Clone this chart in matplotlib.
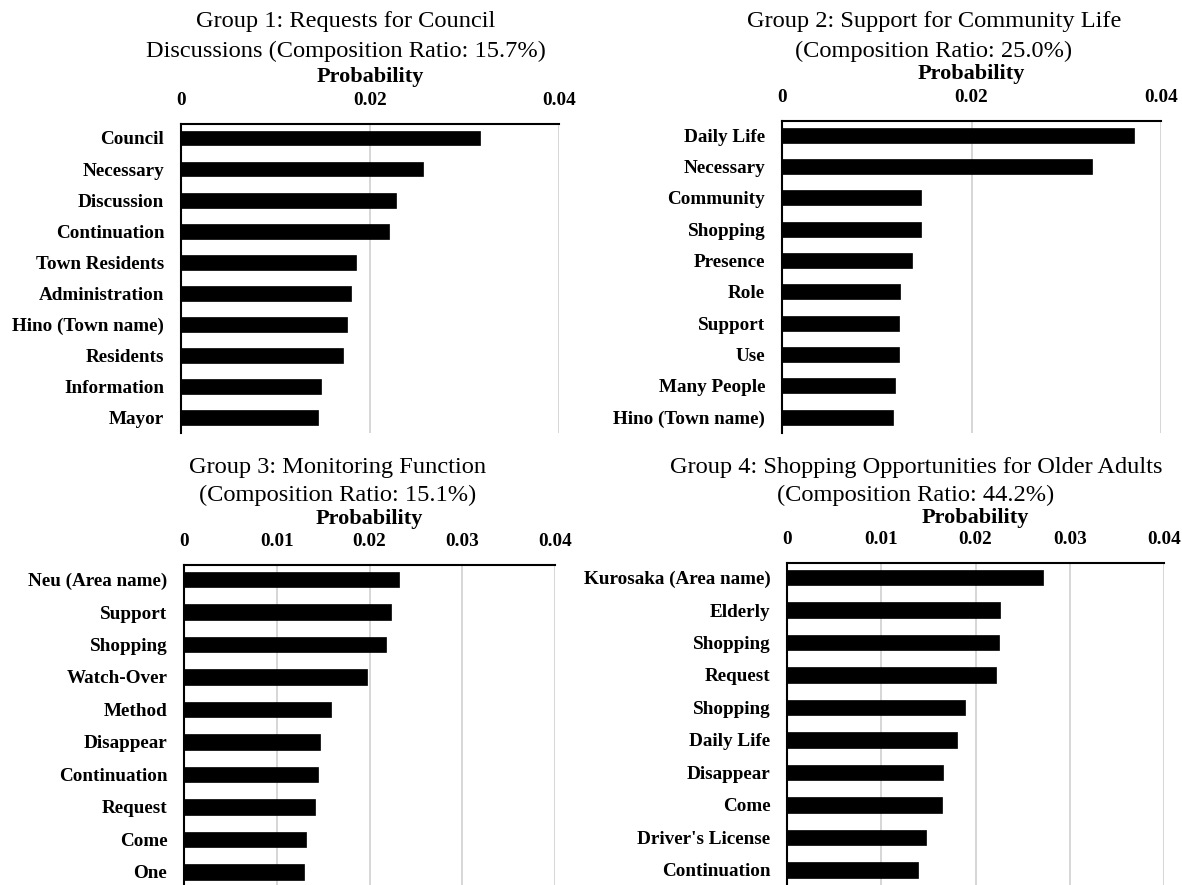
import matplotlib
matplotlib.use("Agg")
import matplotlib.pyplot as plt

plt.rcParams['font.family'] = ['Liberation Serif', 'DejaVu Serif']

# ---- data ----
g1_terms = ["Council", "Necessary", "Discussion", "Continuation", "Town Residents",
            "Administration", "Hino (Town name)", "Residents", "Information", "Mayor"]
g1_probs = [0.0316, 0.0256, 0.0227, 0.0220, 0.0185, 0.0180, 0.0176, 0.0171, 0.0148, 0.0145]

g2_terms = ["Daily Life", "Necessary", "Community", "Shopping", "Presence",
            "Role", "Support", "Use", "Many People", "Hino (Town name)"]
g2_probs = [0.0372, 0.0327, 0.0147, 0.0147, 0.0137, 0.0125, 0.0123, 0.0123, 0.0119, 0.0117]

g3_terms = ["Neu (Area name)", "Support", "Shopping", "Watch-Over", "Method",
            "Disappear", "Continuation", "Request", "Come", "One"]
g3_probs = [0.0232, 0.0223, 0.0218, 0.0197, 0.0159, 0.0147, 0.0144, 0.0141, 0.0132, 0.0129]

g4_terms = ["Kurosaka (Area name)", "Elderly", "Shopping", "Request", "Shopping",
            "Daily Life", "Disappear", "Come", "Driver's License", "Continuation"]
g4_probs = [0.0272, 0.0226, 0.0225, 0.0222, 0.0189, 0.0180, 0.0165, 0.0164, 0.0147, 0.0139]

titles = ["Group 1: Requests for Council\nDiscussions (Composition Ratio: 15.7%)",
          "Group 2: Support for Community Life\n(Composition Ratio: 25.0%)",
          "Group 3: Monitoring Function\n(Composition Ratio: 15.1%)",
          "Group 4: Shopping Opportunities for Older Adults\n(Composition Ratio: 44.2%)"]

ticks_a = [0, 0.02, 0.04]
labels_a = ["0", "0.02", "0.04"]
ticks_b = [0, 0.01, 0.02, 0.03, 0.04]
labels_b = ["0", "0.01", "0.02", "0.03", "0.04"]

W, H = 1182, 885
fig = plt.figure(figsize=(W / 100, H / 100), dpi=100)

# panels: (left, right, top, bottom) in px, title center x, title line y's, prob y
panels = [
    dict(terms=g1_terms, probs=g1_probs, ticks=ticks_a, labels=labels_a, title=titles[0],
         box=(181, 559, 124, 433), tx=346, ty=(22, 51), py=77),
    dict(terms=g2_terms, probs=g2_probs, ticks=ticks_a, labels=labels_a, title=titles[1],
         box=(782, 1161, 121, 433), tx=934, ty=(22, 51), py=74),
    dict(terms=g3_terms, probs=g3_probs, ticks=ticks_b, labels=labels_b, title=titles[2],
         box=(184, 555, 565, 888), tx=338, ty=(467, 495), py=519),
    dict(terms=g4_terms, probs=g4_probs, ticks=ticks_b, labels=labels_b, title=titles[3],
         box=(787, 1164, 563, 886), tx=916, ty=(467, 495), py=518),
]

for p in panels:
    l, r, t, b = p["box"]
    ax = fig.add_axes([l / W, 1 - b / H, (r - l) / W, (b - t) / H])
    n = len(p["terms"])
    ypos = list(range(n))
    ax.barh(ypos, p["probs"], height=0.48, color="black", edgecolor="black", linewidth=0.5, zorder=3)
    ax.set_ylim(n - 0.5, -0.45)
    ax.set_xlim(0, 0.04)
    ax.set_yticks(ypos)
    ax.set_yticklabels(p["terms"], fontsize=13.8, fontweight="bold")
    ax.xaxis.tick_top()
    ax.set_xticks(p["ticks"])
    ax.set_xticklabels(p["labels"], fontsize=13.8, fontweight="bold")
    ax.tick_params(axis="both", length=0)
    ax.tick_params(axis="y", pad=12)
    ax.tick_params(axis="x", pad=11)
    ax.grid(axis="x", color="#d0d0d0", linewidth=1.2, zorder=0)
    ax.set_axisbelow(True)
    for s in ["right", "bottom"]:
        ax.spines[s].set_visible(False)
    for s in ["top", "left"]:
        ax.spines[s].set_linewidth(1.5)
        ax.spines[s].set_color("black")
        ax.spines[s].set_zorder(4)
    line1, line2 = p["title"].split("\n")
    fig.text(p["tx"] / W, 1 - p["ty"][0] / H, line1, ha="center", va="center", fontsize=17.6)
    fig.text(p["tx"] / W, 1 - p["ty"][1] / H, line2, ha="center", va="center", fontsize=17.6)
    fig.text(((l + r) / 2) / W, 1 - p["py"] / H, "Probability", ha="center", va="center",
             fontsize=16, fontweight="bold")

fig.savefig("out.png", dpi=100)
